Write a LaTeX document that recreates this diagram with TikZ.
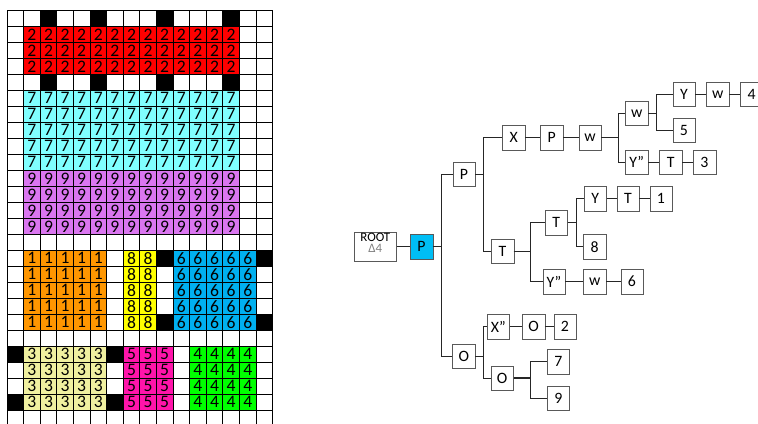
\documentclass[tikz,border=0pt]{standalone}
\usepackage{fontspec}
\setmainfont{Carlito}
\usepackage{xcolor}
\usetikzlibrary{positioning}
\definecolor{cred}{RGB}{255,0,0}
\definecolor{caqua}{RGB}{128,255,255}
\definecolor{cviolet}{RGB}{218,118,240}
\definecolor{corange}{RGB}{255,150,0}
\definecolor{cyellow}{RGB}{255,255,0}
\definecolor{cblue}{RGB}{0,176,240}
\definecolor{cpale}{RGB}{240,240,160}
\definecolor{cmagenta}{RGB}{255,20,170}
\definecolor{cgreen}{RGB}{0,255,0}
\definecolor{cP}{RGB}{0,190,245}

\begin{document}
\begin{tikzpicture}[
		box/.style={draw=black!65, fill=white, minimum width=0.675cm, minimum height=0.73cm, inner sep=0pt, font=\fontsize{13.5}{14}\selectfont},
		link/.style={black!85, line width=0.8pt},
		cell/.style={inner sep=0pt, font=\fontsize{15}{15}\selectfont}
	]
	\clip (0,0) rectangle (22.74,12.69);
	
	% Grid with the coloured regions
	\begin{scope}[shift={(0.21,12.381)}, x=0.498cm, y=-0.48cm]
		\foreach \ca/\cb/\ra/\rb/\col/\lab in {1/13/1/3/cred/2, 1/13/5/9/caqua/7, 1/13/10/13/cviolet/9, 1/5/15/19/corange/1, 7/8/15/19/cyellow/8, 10/14/15/19/cblue/6, 1/5/21/24/cpale/3, 7/9/21/24/cmagenta/5, 11/14/21/24/cgreen/4} {
			\fill[\col] (\ca,\ra) rectangle (\cb+1,\rb+1);
			\foreach \c in {\ca,...,\cb}
				\foreach \r in {\ra,...,\rb}
					\node[cell] (n\lab-\c-\r) at (\c+0.5,\r+0.5) {\lab};
		}
		
		% Black cells
		\foreach \c/\r in {2/0, 5/0, 9/0, 13/0, 2/4, 5/4, 9/4, 13/4, 9/15, 15/15, 9/19, 15/19, 0/21, 6/21, 0/24, 6/24}
			\fill[black] (\c,\r) rectangle ++(1,1);
		
		% Grid lines
		\foreach \c in {0,...,16} \draw[line width=0.7pt] (\c,0) -- (\c,26);
		\foreach \r in {0,...,25} \draw[line width=0.7pt] (0,\r) -- (16,\r);
	\end{scope}
	
	% Tree
	\node[box, minimum width=1.28cm, minimum height=0.88cm, align=center, font=\fontsize{11}{9.5}\selectfont, text depth=0.245cm] (root) at (11.26,5.29) {ROOT\\\textcolor{gray}{Δ4}};
	\node[box, fill=cP] (p0) at (12.645,5.29) {P};
	\node[box] (p1) at (13.92,7.46) {P};
	\node[box] (x1) at (15.41,8.56) {X};
	\node[box] (p2) at (16.55,8.56) {P};
	\node[box] (w1) at (17.70,8.56) {w};
	\node[box] (w2) at (19.10,9.285) {w};
	\node[box] (y1) at (20.52,9.86) {Y};
	\node[box] (w3) at (21.53,9.86) {w};
	\node[box] (l4) at (22.55,9.86) {4};
	\node[box] (l5) at (20.52,8.79) {5};
	\node[box] (yq1) at (19.10,7.83) {Y''};
	\node[box] (t1) at (20.12,7.83) {T};
	\node[box] (l3) at (21.135,7.83) {3};
	\node[box] (t2) at (15.075,5.15) {T};
	\node[box] (t3) at (16.686,6.01) {T};
	\node[box] (y2) at (17.86,6.73) {Y};
	\node[box] (t4) at (18.84,6.73) {T};
	\node[box] (l1) at (19.83,6.73) {1};
	\node[box] (l8) at (17.84,5.29) {8};
	\node[box] (yq2) at (16.62,4.24) {Y''};
	\node[box] (w4) at (17.84,4.24) {w};
	\node[box] (l6) at (18.96,4.24) {6};
	\node[box] (o1) at (13.914,2.0) {O};
	\node[box] (xq) at (14.95,2.89) {X''};
	\node[box] (o2) at (16.005,2.89) {O};
	\node[box] (l2) at (16.95,2.89) {2};
	\node[box] (o3) at (15.066,1.35) {O};
	\node[box] (l7) at (16.75,1.84) {7};
	\node[box] (l9) at (16.75,0.74) {9};
	
	% Straight links
	\foreach \a/\b in {root/p0, x1/p2, p2/w1, y1/w3, w3/l4, yq1/t1, t1/l3, y2/t4, t4/l1, yq2/w4, w4/l6, xq/o2, o2/l2}
		\draw[link] (\a) -- (\b);
	
	% Branching links
	\foreach \a/\b/\o in {p0/p1/0.25, p0/o1/0.25, p1/x1/0.25, p1/t2/0.25, w1/w2/0.5, w1/yq1/0.5, w2/y1/0.25, w2/l5/0.25, t2/t3/0.5, t2/yq2/0.5, t3/y2/0.25, t3/l8/0.25, o1/xq/0.25, o1/o3/0.25, o3/l7/0.5, o3/l9/0.5}
		\draw[link] (\a.east) -- ++(\o,0) |- (\b.west);
	\foreach \a in {w1, t2, o3}
		\draw[link, line width=1.4pt] (\a.east) -- ++(0.5,0);
\end{tikzpicture}
\end{document}
